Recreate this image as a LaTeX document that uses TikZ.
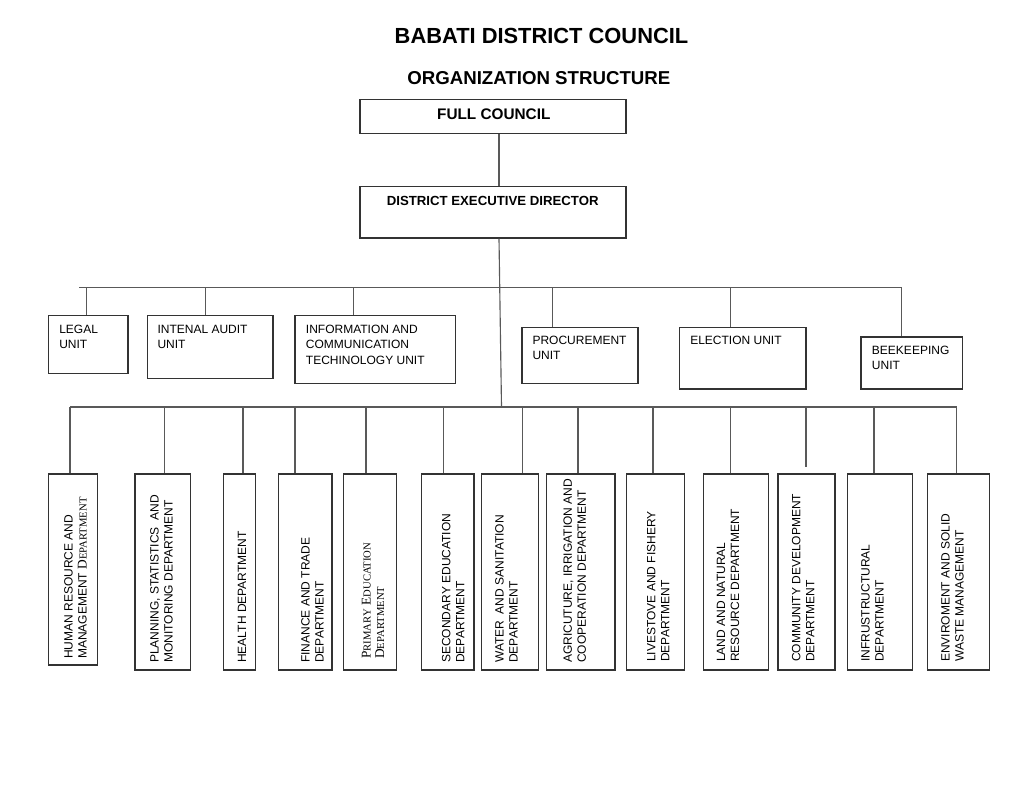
\documentclass[tikz,border=0pt]{standalone}
\usepackage{fontspec}
\setmainfont{Liberation Sans}
\newfontfamily\serifsc{Liberation Serif}
\usetikzlibrary{fit}
\newcommand\mysc[2]{{\serifsc\fontsize{10}{10}\selectfont #1}{\serifsc\fontsize{8}{10}\selectfont #2}}
\begin{document}
\begin{tikzpicture}[x=0.75pt,y=-0.75pt,
  box/.style={draw=black!80, line width=0.8pt, inner sep=0pt},
  conn/.style={draw=black!65, line width=0.85pt},
  utext/.style={anchor=north west, inner sep=0pt, align=left, font=\fontsize{9}{11.5}\selectfont},
  dtext/.style={anchor=north west, inner sep=0pt, align=left, rotate=90, font=\fontsize{9}{10.5}\selectfont},
  ttl/.style={anchor=base, inner sep=0pt}]
\useasboundingbox (0,0) rectangle (1020,788);

% titles
\node[ttl, font=\bfseries\fontsize{16.4}{18}\selectfont] (t1) at (541.5,43.3) {BABATI DISTRICT COUNCIL};
\node[ttl, font=\bfseries\fontsize{14}{16}\selectfont] (t2) at (538.8,85) {ORGANIZATION STRUCTURE};

% top boxes
\node[box, fit={(360,99.3) (626,133.7)}] (fc) {};
\node[ttl, font=\bfseries\fontsize{11.5}{13}\selectfont] (fct) at (493.8,119.3) {FULL COUNCIL};
\node[box, fit={(360,186.7) (626,238)}] (ded) {};
\node[ttl, font=\bfseries\fontsize{9.9}{12}\selectfont] (dedt) at (492.7,205) {DISTRICT EXECUTIVE DIRECTOR};

\coordinate (cx) at (499,0);
\coordinate (m2) at (501.5,407);
\draw[conn] (fc.south -| cx) -- (ded.north -| cx);
\draw[conn] (ded.south -| cx) -- (m2);

% units bus
\coordinate (b1L) at (79,287.3);
\coordinate (b1R) at (901.7,287.3);
\draw[conn] (b1L) -- (b1R);

% units
\node[box, fit={(48.7,315.3) (128,373.3)}] (legal) {};
\node[utext] (legalt) at (59,325) {LEGAL\\UNIT};
\node[box, fit={(147.3,315.3) (273,378.3)}] (audit) {};
\node[utext] (auditt) at (157.3,325) {INTENAL AUDIT\\UNIT};
\node[box, fit={(295,315.3) (455.3,383.7)}] (ict) {};
\node[utext] (ictt) at (305.7,325) {INFORMATION AND\\COMMUNICATION\\TECHINOLOGY UNIT};
\node[box, fit={(522,327.3) (638,383.7)}] (proc) {};
\node[utext] (proct) at (532.3,336) {PROCUREMENT\\UNIT};
\node[box, fit={(679.3,327.3) (806,389)}] (elec) {};
\node[utext] (elect) at (690,336) {ELECTION UNIT};
\node[box, fit={(861,337) (962.3,389)}] (bee) {};
\node[utext] (beet) at (871.7,346) {BEEKEEPING\\UNIT};

\coordinate (u1) at (86.7,287.3);
\coordinate (u2) at (205.5,287.3);
\coordinate (u3) at (353.5,287.3);
\coordinate (u4) at (552.3,287.3);
\coordinate (u5) at (730.7,287.3);
\coordinate (u6) at (901.7,287.3);
\draw[conn] (u1) -- (u1 |- legal.north);
\draw[conn] (u2) -- (u2 |- audit.north);
\draw[conn] (u3) -- (u3 |- ict.north);
\draw[conn] (u4) -- (u4 |- proc.north);
\draw[conn] (u5) -- (u5 |- elec.north);
\draw[conn] (u6) -- (u6 |- bee.north);

% departments bus
\coordinate (b2L) at (70,407);
\coordinate (b2R) at (956.7,407);
\draw[conn] (b2L) -- (b2R);

% departments
\node[box, fit={(48.3,474) (97.3,665)}] (hr) {};
\node[dtext] (hrt) at (64,659) {HUMAN RESOURCE AND\\MANAGEMENT \mysc{D}{EPARTMENT}};
\node[box, fit={(135,474) (190.7,670)}] (plan) {};
\node[dtext] (plant) at (150,663) {PLANNING, STATISTICS\ \ AND\\MONITORING DEPARTMENT};
\node[box, fit={(223.3,474) (255.3,670)}] (health) {};
\node[dtext] (healtht) at (237.5,663) {HEALTH DEPARTMENT};
\node[box, fit={(278.7,474) (332,670)}] (fin) {};
\node[dtext] (fint) at (301,663) {FINANCE AND TRADE\\DEPARTMENT};
\node[box, fit={(343.3,474) (396.7,670)}] (prim) {};
\node[dtext, font=\fontsize{10}{10}\selectfont] (primt) at (361.7,659) {\mysc{P}{RIMARY} \mysc{E}{DUCATION}\\\mysc{D}{EPARTMENT}};
\node[box, fit={(421.7,474) (474,670)}] (sec) {};
\node[dtext] (sect) at (441.7,663) {SECONDARY EDUCATION\\DEPARTMENT};
\node[box, fit={(481.7,474) (538.3,670)}] (wat) {};
\node[dtext] (watt) at (495,663) {WATER\ \ AND SANITATION\\DEPARTMENT};
\node[box, fit={(546.7,474) (615,670)}] (agri) {};
\node[dtext] (agrit) at (563.3,663) {AGRICUTURE, IRRIGATION AND\\COOPERATION DEPARTMENT};
\node[box, fit={(626.3,474) (684.3,670)}] (live) {};
\node[dtext] (livet) at (646.7,662) {LIVESTOVE AND FISHERY\\DEPARTMENT};
\node[box, fit={(703.7,474) (768.3,670)}] (land) {};
\node[dtext] (landt) at (716.7,662) {LAND AND NATURAL\\RESOURCE DEPARTMENT};
\node[box, fit={(778,474) (835,670)}] (comm) {};
\node[dtext] (commt) at (791.7,662) {COMMUNITY DEVELOPMENT\\DEPARTMENT};
\node[box, fit={(847.3,474) (912.3,670)}] (infra) {};
\node[dtext] (infrat) at (861,662) {INFRUSTRUCTURAL\\DEPARTMENT};
\node[box, fit={(927.7,474) (989.7,670)}] (env) {};
\node[dtext] (envt) at (941,662) {ENVIROMENT AND SOLID\\WASTE MANAGEMENT};

\coordinate (d1) at (70,407);
\coordinate (d2) at (164.7,407);
\coordinate (d3) at (243,407);
\coordinate (d4) at (295,407);
\coordinate (d5) at (366,407);
\coordinate (d6) at (443.7,407);
\coordinate (d7) at (522.3,407);
\coordinate (d8) at (578,407);
\coordinate (d9) at (653,407);
\coordinate (d10) at (730.7,407);
\coordinate (d11) at (806,407);
\coordinate (d11e) at (806,466.7);
\coordinate (d12) at (874,407);
\coordinate (d13) at (956.7,407);
\draw[conn] (d1) -- (d1 |- hr.north);
\draw[conn] (d2) -- (d2 |- plan.north);
\draw[conn] (d3) -- (d3 |- health.north);
\draw[conn] (d4) -- (d4 |- fin.north);
\draw[conn] (d5) -- (d5 |- prim.north);
\draw[conn] (d6) -- (d6 |- sec.north);
\draw[conn] (d7) -- (d7 |- wat.north);
\draw[conn] (d8) -- (d8 |- agri.north);
\draw[conn] (d9) -- (d9 |- live.north);
\draw[conn] (d10) -- (d10 |- land.north);
\draw[conn] (d11) -- (d11e);
\draw[conn] (d12) -- (d12 |- infra.north);
\draw[conn] (d13) -- (d13 |- env.north);
\end{tikzpicture}
\end{document}
